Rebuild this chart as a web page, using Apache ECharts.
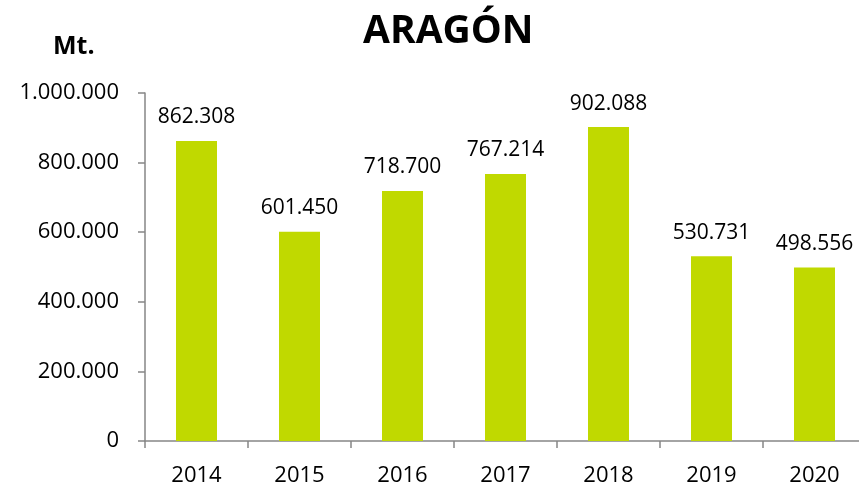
<!DOCTYPE html>
<html>
<head>
<meta charset="utf-8">
<script src="https://cdn.jsdelivr.net/npm/echarts@6/dist/echarts.min.js"></script>
<style>
  html, body { margin: 0; padding: 0; background: #fff; overflow: hidden; }
  /* canvas is a little wider than the window so the plot runs off the right edge */
  #chart { width: 866px; height: 489px; }
</style>
</head>
<body>
<div id="chart"></div>
<script>
// Annual totals for Aragón, in Mt.
const years = ['2014', '2015', '2016', '2017', '2018', '2019', '2020'];
const totals = [862308, 601450, 718700, 767214, 902088, 530731, 498556];
const yTicks = [0, 200000, 400000, 600000, 800000, 1000000];

// Spanish-style thousands separator: 1.000.000
function fmt(v) {
  return String(Math.round(v)).replace(/\B(?=(\d{3})+(?!\d))/g, '.');
}

const FONT = '"Open Sans", "DejaVu Sans", sans-serif';
const chart = echarts.init(document.getElementById('chart'));

chart.setOption({
  animation: false,
  title: [
    {
      text: 'ARAGÓN',
      left: 358,
      top: 7,
      textStyle: { fontFamily: FONT, fontWeight: 'bold', fontSize: 39, color: '#000' }
    },
    {
      text: 'Mt.',
      left: 48,
      top: 29,
      textStyle: { fontFamily: FONT, fontWeight: 'bold', fontSize: 25, color: '#000' }
    }
  ],
  grid: { left: 145, right: 0, top: 93, bottom: 48 },
  xAxis: {
    type: 'category',
    data: years,
    axisLine: { lineStyle: { color: '#868686', width: 1.5 } },
    axisTick: { show: true, length: 7, lineStyle: { color: '#868686', width: 1.5 } },
    axisLabel: { fontFamily: FONT, fontSize: 22, color: '#000', margin: 24 }
  },
  yAxis: {
    type: 'value',
    min: yTicks[0],
    max: yTicks[yTicks.length - 1],
    interval: yTicks[1] - yTicks[0],
    axisLine: { show: true, lineStyle: { color: '#868686', width: 1.5 } },
    axisTick: { show: true, length: 7, lineStyle: { color: '#868686', width: 1.5 } },
    splitLine: { show: false },
    axisLabel: { fontFamily: FONT, fontSize: 22, color: '#000', margin: 26, formatter: fmt }
  },
  series: [{
    type: 'bar',
    data: totals,
    barWidth: 41,
    itemStyle: { color: '#C0D900' },
    label: {
      show: true,
      position: 'top',
      distance: 13,
      fontFamily: FONT,
      fontSize: 21,
      color: '#000',
      formatter: p => fmt(p.value)
    }
  }]
});
</script>
</body>
</html>
